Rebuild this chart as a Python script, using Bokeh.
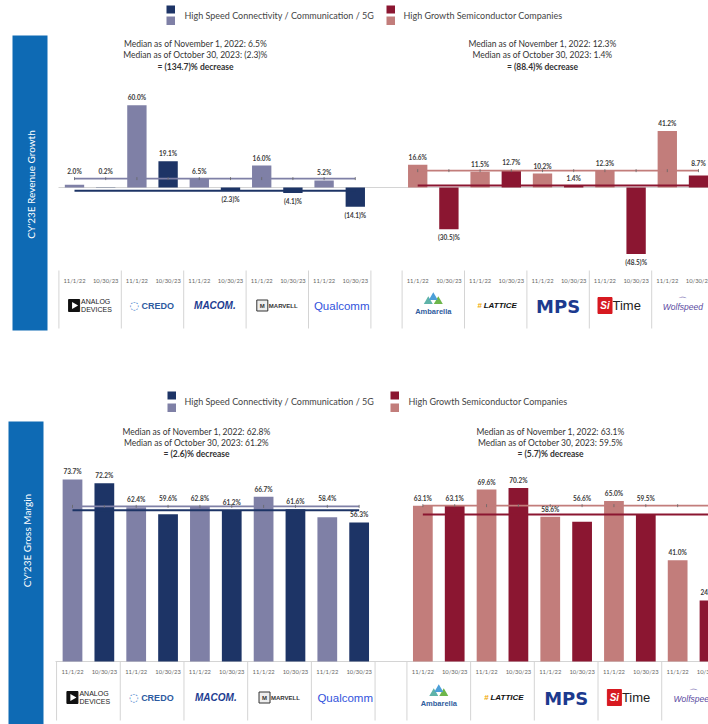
import numpy as np
from bokeh.plotting import figure
from bokeh.models import Range1d, Label
from bokeh.layouts import column
from bokeh.embed import file_html
from bokeh.resources import INLINE
from bokeh.core.properties import value

# ---------------- data ----------------
hs_companies = ["Analog Devices", "Credo", "MACOM", "Marvell", "Qualcomm"]
hg_companies = ["Ambarella", "Lattice", "MPS", "SiTime", "Wolfspeed"]
period_labels = ["11/1/22", "10/30/23"]

rev_hs_nov22 = [2.0, 60.0, 6.5, 16.0, 5.2]
rev_hs_oct23 = [0.2, 19.1, -2.3, -4.1, -14.1]
rev_hg_nov22 = [16.6, 11.5, 10.2, 12.3, 41.2]
rev_hg_oct23 = [-30.5, 12.7, 1.4, -48.5, 8.7]
rev_change = ["(134.7)%", "(88.4)%"]

gm_hs_nov22 = [73.7, 62.4, 62.8, 66.7, 58.4]
gm_hs_oct23 = [72.2, 59.6, 61.2, 61.6, 56.3]
gm_hg_nov22 = [63.1, 69.6, 58.6, 65.0, 41.0]
gm_hg_oct23 = [63.1, 70.2, 56.6, 59.5, 24.7]
gm_change = ["(2.6)%", "(5.7)%"]

legend_labels = ["High Speed Connectivity / Communication / 5G",
                 "High Growth Semiconductor Companies"]
panel_titles = ["CY'23E Revenue Growth", "CY'23E Gross Margin"]

# ---------------- style ----------------
HS_LIGHT, HS_DARK = "#7f80a6", "#1d3466"
HG_LIGHT, HG_DARK = "#c27d7b", "#8b1631"
SIDEBAR = "#0e6ab4"
TXT = "#3a3a3a"
FONT = "Lato"
W = 708


def fmt(v):
    return f"{v:.1f}%" if v >= 0 else f"({-v:.1f})%"


def label_y(v, lines, k):
    off, half, neg = 7.5 / k, 3.4 / k, 8.5 / k
    if v < 0:
        return v - neg
    y = v + off
    for _ in range(4):
        hit = [m for m in lines if y - half <= m <= y + half]
        if not hit:
            break
        y = max(hit) + off
    return y


def draw_logos(p, centers, yc, dx, k):
    def X(i, px):
        return centers[i] + px / dx

    def Y(py):
        return yc - py / k

    def txt(x, y, t, size, color, style="normal", align="center", font="Liberation Sans"):
        p.text(x=[x], y=[y], text=[t], text_align=align, text_baseline="middle",
               text_font=value(font), text_font_size=size, text_color=color,
               text_font_style=style)

    # Analog Devices
    p.rect(x=[X(0, -16)], y=[Y(0)], width=11, height=12, width_units="screen",
           height_units="screen", color="#111111")
    p.scatter(x=[X(0, -16)], y=[Y(0)], marker="triangle", angle=-np.pi / 2, size=7,
              color="white", line_color=None)
    txt(X(0, -9), Y(-3.6), "ANALOG", "7px", "#222222", align="left")
    txt(X(0, -9), Y(3.6), "DEVICES", "7px", "#222222", align="left")
    # Credo
    txt(X(1, -18), Y(0), "\u25cc", "11px", "#3a78c8", font="DejaVu Sans")
    txt(X(1, -11), Y(0), "CREDO", "9px", "#2c5aa0", style="bold", align="left")
    # MACOM
    txt(X(2, 0), Y(0), "MACOM.", "10px", "#1d3c91", style="bold italic")
    # Marvell
    p.scatter(x=[X(3, -15)], y=[Y(0)], marker="square", size=11, fill_color="#eeeeee",
              line_color="#333333", line_width=1)
    txt(X(3, -15), Y(0.5), "M", "6px", "#333333", style="bold")
    txt(X(3, -8.5), Y(0), "MARVELL", "6px", "#333333", style="bold", align="left")
    # Qualcomm
    txt(X(4, 2), Y(0), "Qualcomm", "11.5px", "#3253dc")
    # Ambarella
    p.scatter(x=[X(5, -5), X(5, 5), X(5, 0)], y=[Y(-4), Y(-4), Y(-8)], marker="triangle",
              size=[9, 9, 9], color=["#5fb3a8", "#6db64a", "#4c9fd8"], line_color=None)
    txt(X(5, 0), Y(6), "Ambarella", "7.5px", "#2f5d9e", style="bold")
    # Lattice
    txt(X(6, -16), Y(0), "#", "8px", "#f0a800", style="bold")
    txt(X(6, -12), Y(0), "LATTICE", "8px", "#111111", style="bold italic", align="left")
    # MPS
    txt(X(7, 0), Y(0.5), "MPS", "18px", "#1c3a8e", style="bold", font="DejaVu Sans")
    # SiTime
    p.rect(x=[X(8, -15.5)], y=[Y(0)], width=14, height=16, width_units="screen",
           height_units="screen", color="#d71920")
    txt(X(8, -15.5), Y(0), "Si", "10px", "white", style="bold italic")
    txt(X(8, -8), Y(0), "Time", "13px", "#222222", align="left")
    # Wolfspeed
    txt(X(9, 0), Y(-5), "\u2312", "9px", "#5b4a9f", font="DejaVu Sans")
    txt(X(9, 0), Y(1), "Wolfspeed", "8.5px", "#5b4a9f", style="italic")


def build_panel(title, series, changes, g):
    def X(px):
        return (px - g["x0"]) / g["dx"]

    def Y(py):
        return (g["y0"] - py) / g["k"]

    h = g["bot"] - g["top"]
    p = figure(width=W, height=h, x_range=Range1d(X(0), X(W)),
               y_range=Range1d(Y(g["bot"]), Y(g["top"])),
               x_axis_type=None, y_axis_type=None, toolbar_location=None,
               output_backend="svg", min_border=0, outline_line_color=None,
               background_fill_color="white", border_fill_color="white")

    # side bar
    l, r, t, b = g["sb"]
    p.quad(left=[X(l)], right=[X(r)], top=[Y(t)], bottom=[Y(b)], color=SIDEBAR, line_color=None)
    p.add_layout(Label(x=X(g["sbt"][0]), y=Y(g["sbt"][1]), text=title, angle=np.pi / 2,
                       text_align="center", text_baseline="middle", text_color="white",
                       text_font_size="10px", text_font=FONT))

    # baseline and separators
    p.line([X(g["base_x"]), X(W)], [0, 0], color="#d4d4d4", line_width=1)
    seps = [-0.5, 1.5, 3.5, 5.5, 7.5, 9.5, 10.5, 12.5, 14.5, 16.5, 18.5]
    p.segment(x0=seps, y0=[Y(g["sep"][0])] * len(seps), x1=seps,
              y1=[Y(g["sep"][1])] * len(seps), color="#d4d4d4", line_width=1)

    groups = [(series[0], series[1], 0, HS_LIGHT, HS_DARK),
              (series[2], series[3], 11, HG_LIGHT, HG_DARK)]
    for gi, (a, bb, start, cl, cd) in enumerate(groups):
        n = len(a)
        xa = [start + 2 * i for i in range(n)]
        xb = [start + 2 * i + 1 for i in range(n)]
        p.vbar(x=xa, top=a, bottom=0, width=0.62, color=cl, line_color=None)
        p.vbar(x=xb, top=bb, bottom=0, width=0.62, color=cd, line_color=None)
        ma, mb = float(np.median(a)), float(np.median(bb))
        xl = [start, start + 2 * n - 1]
        p.line(xl, [ma, ma], color=cl, line_width=1.6)
        p.scatter(list(range(start, start + 2 * n)), [ma] * (2 * n), marker="dash",
                  angle=np.pi / 2, size=3, color="#666666", line_width=0.8)
        p.line(xl, [mb, mb], color=cd, line_width=2)

        vals = list(a) + list(bb)
        xs = xa + xb
        ys = [label_y(v, [ma, mb], g["k"]) for v in vals]
        p.text(x=xs, y=ys, text=[fmt(v) for v in vals], text_align="center",
               text_baseline="middle", text_font=value(FONT), text_font_style="bold",
               text_font_size="6.5px", text_color=TXT)

        # median annotation
        lines = [f"Median as of November 1, 2022: {fmt(ma)}",
                 f"Median as of October 30, 2023: {fmt(mb)}",
                 f"= {changes[gi]} decrease"]
        for li, s in enumerate(lines):
            p.add_layout(Label(x=X(g["mx"][gi]), y=Y(g["my"][li]), text=s,
                               text_align="center", text_baseline="middle",
                               text_font=FONT, text_font_size="8.5px", text_color="#333333",
                               text_font_style="bold" if li == 2 else "normal"))

        # legend
        lx = g["lx"][gi]
        d0, d1, l0, l1 = g["ly"]
        p.quad(left=[X(lx)], right=[X(lx + 8.5)], top=[Y(d0)], bottom=[Y(d1)], color=cd, line_color=None)
        p.quad(left=[X(lx)], right=[X(lx + 8.5)], top=[Y(l0)], bottom=[Y(l1)], color=cl, line_color=None)
        p.add_layout(Label(x=X(g["ltx"][gi]), y=Y(g["lty"]), text=legend_labels[gi],
                           text_align="left", text_baseline="middle", text_font=FONT,
                           text_font_size="9px", text_color="#444444"))

    # period labels
    slots = list(range(0, 10)) + list(range(11, 21))
    p.text(x=slots, y=[Y(g["date_y"])] * len(slots), text=period_labels * 10,
           text_align="center", text_baseline="middle", text_font=value(FONT),
           text_font_size="5.8px", text_color="#666666")

    centers = [0.5, 2.5, 4.5, 6.5, 8.5, 11.5, 13.5, 15.5, 17.5, 19.5]
    draw_logos(p, centers, Y(g["logo_y"]), g["dx"], g["k"])
    return p


top_geom = dict(x0=74, dx=31.2, y0=187, k=1.37, top=0, bot=360,
                sb=(12, 47, 35, 330), sbt=(30, 184),
                lx=[166, 386], ly=(5, 13, 16, 24.5), ltx=[184, 403], lty=15,
                mx=[195, 542], my=[43, 54.5, 66],
                date_y=280, logo_y=305, sep=(270, 328), base_x=58)
bot_geom = dict(x0=72, dx=31.85, y0=661, k=2.47, top=360, bot=724,
                sb=(8, 43, 421, 724), sbt=(26, 540),
                lx=[167, 390], ly=(391, 399, 403, 411.5), ltx=[184, 408], lty=401,
                mx=[196, 550], my=[431, 442, 453],
                date_y=671, logo_y=697, sep=(661, 720), base_x=55)

p_top = build_panel(panel_titles[0], [rev_hs_nov22, rev_hs_oct23, rev_hg_nov22, rev_hg_oct23],
                    rev_change, top_geom)
p_bot = build_panel(panel_titles[1], [gm_hs_nov22, gm_hs_oct23, gm_hg_nov22, gm_hg_oct23],
                    gm_change, bot_geom)

layout = column(p_top, p_bot, spacing=0)
open("out.html", "w").write(file_html(layout, INLINE))
